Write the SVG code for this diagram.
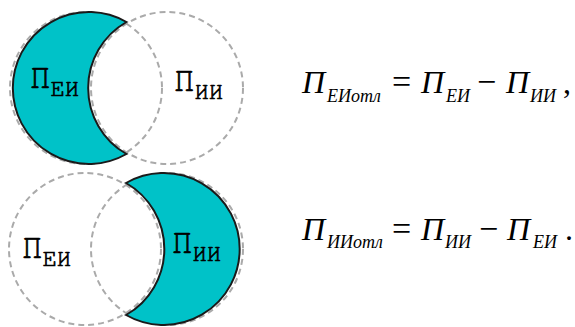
<svg xmlns="http://www.w3.org/2000/svg" width="575" height="327" viewBox="0 0 575 327">
<defs>
  <circle id="dc" r="76" fill="none" stroke="#aaaaaa" stroke-width="2" stroke-dasharray="6 4"/>
</defs>
<rect width="575" height="327" fill="#fff"/>
<g id="top-diagram">
  <use href="#dc" x="86" y="88"/>
  <use href="#dc" x="167" y="88"/>
  <path fill="#00c2c8" stroke="#1a1a1a" stroke-width="2" d="M126.5,22 A76,76 0 1,0 126.5,154 A76,76 0 0,1 126.5,22 Z"/>
  <text x="30" y="88" font-family="FreeMono, Courier, monospace" font-size="34" stroke="#000" stroke-width="0.7">П<tspan font-size="24" dy="8">ЕИ</tspan></text>
  <text x="174" y="91" font-family="FreeMono, Courier, monospace" font-size="34" stroke="#000" stroke-width="0.7">П<tspan font-size="24" dy="8">ИИ</tspan></text>
</g>
<g id="bottom-diagram">
  <use href="#dc" x="85" y="249"/>
  <use href="#dc" x="167" y="249"/>
  <path fill="#00c2c8" stroke="#1a1a1a" stroke-width="2" d="M126,183 A76,76 0 1,1 126,315 A76,76 0 0,0 126,183 Z"/>
  <text x="22" y="258" font-family="FreeMono, Courier, monospace" font-size="34" stroke="#000" stroke-width="0.7">П<tspan font-size="24" dy="8">ЕИ</tspan></text>
  <text x="172" y="253" font-family="FreeMono, Courier, monospace" font-size="34" stroke="#000" stroke-width="0.7">П<tspan font-size="24" dy="8">ИИ</tspan></text>
</g>
<g id="formula-1">
  <text font-family="Liberation Serif" font-style="italic" font-size="32" x="302" y="93">П</text>
  <text font-family="Liberation Serif" font-style="italic" font-size="18" x="327" y="102">ЕИотл</text>
  <text font-family="Liberation Serif" font-size="34" x="392" y="93">=</text>
  <text font-family="Liberation Serif" font-style="italic" font-size="32" x="421" y="93">П</text>
  <text font-family="Liberation Serif" font-style="italic" font-size="18" x="446" y="102">ЕИ</text>
  <text font-family="Liberation Serif" font-size="34" x="477" y="93">−</text>
  <text font-family="Liberation Serif" font-style="italic" font-size="32" x="506" y="93">П</text>
  <text font-family="Liberation Serif" font-style="italic" font-size="18" x="530" y="102">ИИ</text>
  <text font-family="Liberation Serif" font-size="32" x="563" y="93">,</text>
</g>
<g id="formula-2">
  <text font-family="Liberation Serif" font-style="italic" font-size="32" x="302" y="240">П</text>
  <text font-family="Liberation Serif" font-style="italic" font-size="18" x="327" y="248">ИИотл</text>
  <text font-family="Liberation Serif" font-size="34" x="392" y="240">=</text>
  <text font-family="Liberation Serif" font-style="italic" font-size="32" x="421" y="240">П</text>
  <text font-family="Liberation Serif" font-style="italic" font-size="18" x="445" y="248">ИИ</text>
  <text font-family="Liberation Serif" font-size="34" x="479" y="240">−</text>
  <text font-family="Liberation Serif" font-style="italic" font-size="32" x="507" y="240">П</text>
  <text font-family="Liberation Serif" font-style="italic" font-size="18" x="533" y="248">ЕИ</text>
  <text font-family="Liberation Serif" font-size="32" x="565" y="240">.</text>
</g>
</svg>
